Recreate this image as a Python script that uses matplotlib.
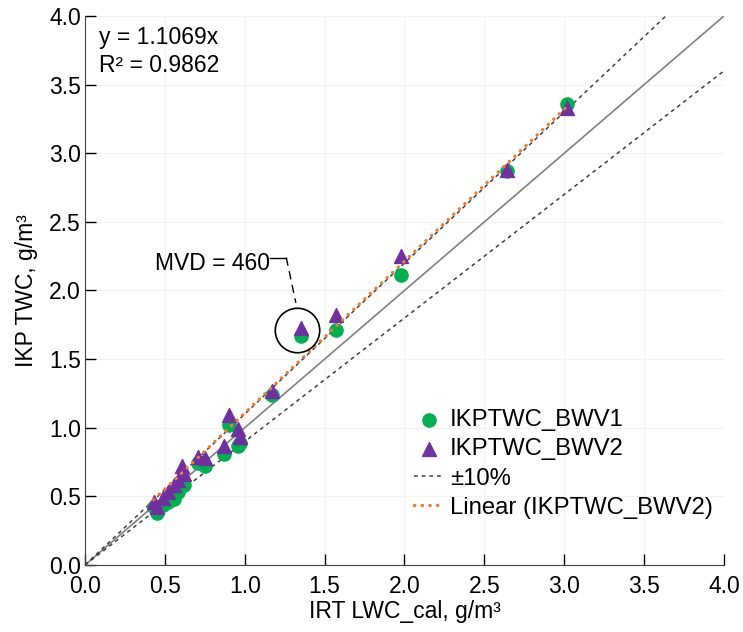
import numpy as np
import matplotlib.pyplot as plt

plt.rcParams['font.family'] = ['Liberation Sans', 'DejaVu Sans']

# IRT LWC_cal (g/m3) y valores IKP TWC para cada BWV
irt_lwc = [0.43, 0.45, 0.49, 0.52, 0.56, 0.58, 0.61, 0.62, 0.71, 0.75,
           0.87, 0.90, 0.96, 0.97, 1.17, 1.35, 1.57, 1.98, 2.64, 3.02]
ikp_bwv1 = [0.42, 0.38, 0.44, 0.46, 0.48, 0.53, 0.60, 0.58, 0.74, 0.72,
            0.81, 1.02, 0.87, 0.89, 1.24, 1.67, 1.71, 2.11, 2.87, 3.36]
ikp_bwv2 = [0.46, 0.42, 0.49, 0.53, 0.58, 0.62, 0.72, 0.66, 0.79, 0.78,
            0.87, 1.09, 0.99, 0.93, 1.27, 1.73, 1.82, 2.25, 2.88, 3.33]
pendiente = 1.1069
r2 = 0.9862
ticks = [0.0, 0.5, 1.0, 1.5, 2.0, 2.5, 3.0, 3.5, 4.0]

fs = 16.5

fig = plt.figure(figsize=(7.43, 6.32), dpi=100)
ax = fig.add_axes([0.1144, 0.106, 0.86, 0.8687])

lim = np.array([0.0, 4.0])
ax.plot(lim, lim, color='#808080', lw=1.2, zorder=2)
ax.plot(lim, 1.1 * lim, color='#404040', lw=1.1, ls=(0, (2.5, 2.5)), zorder=2, label='±10%')
ax.plot(lim, 0.9 * lim, color='#404040', lw=1.1, ls=(0, (2.5, 2.5)), zorder=2)

ax.scatter(irt_lwc, ikp_bwv1, s=90, marker='o', color='#00B050', zorder=3,
           label='IKPTWC_BWV1')
ax.scatter(irt_lwc, ikp_bwv2, s=100, marker='^', color='#7030A0', zorder=4,
           label='IKPTWC_BWV2')

xt = np.array([min(irt_lwc), max(irt_lwc)])
ax.plot(xt, pendiente * xt, color='#ED7D31', lw=2.4, ls=(0, (0.1, 2.2)),
        dash_capstyle='round', zorder=5, label='Linear (IKPTWC_BWV2)')

# circulo MVD
ax.plot([1.33], [1.71], marker='o', ms=32, mfc='none', mec='black', mew=1.2, zorder=6)
ax.plot([1.16, 1.26], [2.24, 2.24], color='black', lw=1.0)
ax.plot([1.26, 1.32], [2.24, 1.91], color='black', lw=1.0, ls=(0, (6, 4)))
ax.text(1.155, 2.20, 'MVD = 460', fontsize=fs, ha='right', va='center')

ax.text(0.09, 3.93, 'y = %.4fx\nR² = %.4f' % (pendiente, r2), fontsize=fs,
        va='top', ha='left', linespacing=1.3)

ax.set_xlim(0, 4)
ax.set_ylim(0, 4)
ax.set_xticks(ticks)
ax.set_yticks(ticks)
ax.set_xticklabels(['%.1f' % t for t in ticks])
ax.set_yticklabels(['%.1f' % t for t in ticks])
ax.tick_params(direction='in', length=8, width=1, labelsize=fs, pad=3)
ax.tick_params(axis='x', pad=7)
ax.grid(True, color='#F2F2F2', lw=0.8)
ax.set_axisbelow(True)
for s in ['top', 'right']:
    ax.spines[s].set_visible(False)
ax.spines['left'].set_color('#404040')
ax.spines['bottom'].set_color('#404040')

ax.set_xlabel('IRT LWC_cal, g/m³', fontsize=fs, labelpad=1.5)
ax.set_ylabel('IKP TWC, g/m³', fontsize=fs, labelpad=8)

h, l = ax.get_legend_handles_labels()
orden = [l.index('IKPTWC_BWV1'), l.index('IKPTWC_BWV2'), l.index('±10%'),
         l.index('Linear (IKPTWC_BWV2)')]
ax.legend([h[i] for i in orden], [l[i] for i in orden], loc='lower right',
          bbox_to_anchor=(1.005, 0.058), frameon=False, fontsize=17.2,
          handlelength=1.25, handletextpad=0.25, labelspacing=0.3,
          borderaxespad=0.2)

fig.savefig('out.png', dpi=100)
